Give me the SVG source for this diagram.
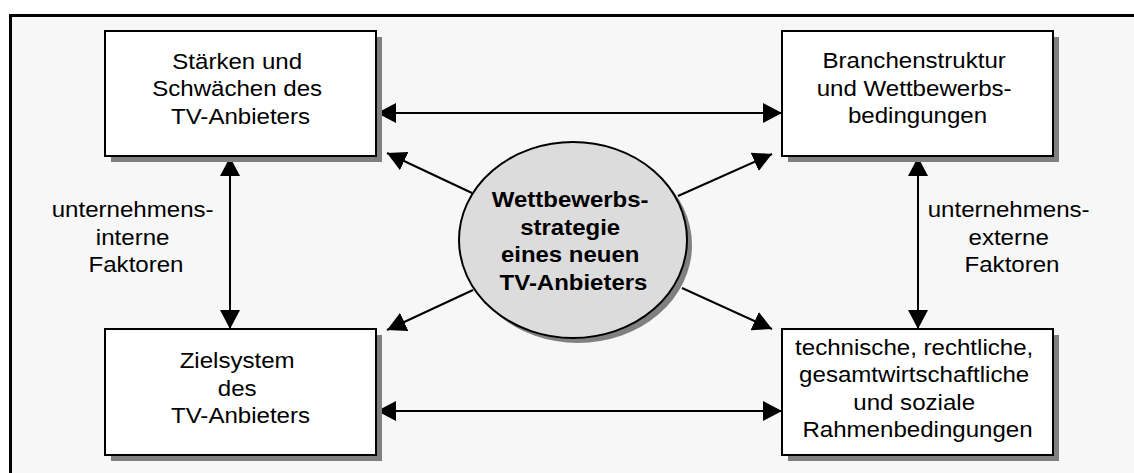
<svg xmlns="http://www.w3.org/2000/svg" width="1134" height="473" viewBox="0 0 1134 473">
  <style>
    .box { fill: #ffffff; stroke: #000000; stroke-width: 2; }
    .shadow { fill: #808080; }
    .lbl { font-family: "Liberation Sans", Arial, sans-serif; font-size: 22px; fill: #000000; text-anchor: middle; }
    .bold { font-weight: bold; }
    .conn { stroke: #000000; stroke-width: 2; fill: none; marker-end: url(#head); }
    .both { marker-start: url(#head); }
  </style>
  <defs>
    <marker id="head" markerUnits="userSpaceOnUse" markerWidth="19" markerHeight="20" refX="19" refY="10" orient="auto-start-reverse" viewBox="0 0 19 20">
      <path d="M0,0 L19,10 L0,20 Z" fill="#000000"/>
    </marker>
  </defs>

  <!-- page and frame -->
  <rect x="0" y="0" width="1134" height="473" fill="#ffffff"/>
  <rect x="10.5" y="15.5" width="1140" height="470" fill="#f7f7f7" stroke="#000000" stroke-width="3"/>

  <!-- connectors -->
  <g id="connectors">
    <line class="conn both" x1="377" y1="113" x2="782" y2="113"/>
    <line class="conn both" x1="377" y1="411" x2="782" y2="411"/>
    <line class="conn both" x1="230" y1="157" x2="230" y2="329"/>
    <line class="conn both" x1="918" y1="157" x2="918" y2="329"/>
    <line class="conn" x1="472" y1="193" x2="387" y2="153"/>
    <line class="conn" x1="678" y1="196" x2="772" y2="154"/>
    <line class="conn" x1="473" y1="290" x2="387" y2="330"/>
    <line class="conn" x1="682" y1="288" x2="772" y2="329"/>
  </g>

  <!-- top left -->
  <g id="staerken">
    <rect class="shadow" x="111" y="37" width="271" height="125"/>
    <rect class="box" x="105" y="31" width="271" height="125"/>
    <text class="lbl" transform="translate(240.5 0) scale(1.095 1)">
      <tspan x="0" y="69">Stärken und</tspan>
      <tspan x="0" y="96.5">Schwächen des</tspan>
      <tspan x="0" y="124">TV-Anbieters</tspan>
    </text>
  </g>

  <!-- top right -->
  <g id="branche">
    <rect class="shadow" x="788" y="37" width="271" height="125"/>
    <rect class="box" x="782" y="31" width="271" height="125"/>
    <text class="lbl" transform="translate(917.5 0) scale(1.095 1)">
      <tspan x="0" y="68.5">Branchenstruktur</tspan>
      <tspan x="0" y="96.5">und Wettbewerbs-</tspan>
      <tspan x="0" y="123.5">bedingungen</tspan>
    </text>
  </g>

  <!-- bottom left -->
  <g id="zielsystem">
    <rect class="shadow" x="111" y="335" width="271" height="126"/>
    <rect class="box" x="105" y="329" width="271" height="126"/>
    <text class="lbl" transform="translate(240.5 0) scale(1.095 1)">
      <tspan x="0" y="368">Zielsystem</tspan>
      <tspan x="0" y="396">des</tspan>
      <tspan x="0" y="423">TV-Anbieters</tspan>
    </text>
  </g>

  <!-- bottom right -->
  <g id="rahmen">
    <rect class="shadow" x="788" y="335" width="271" height="126"/>
    <rect class="box" x="782" y="329" width="271" height="126"/>
    <text class="lbl" transform="translate(917.5 0) scale(1.095 1)">
      <tspan x="0" y="355">technische, rechtliche,</tspan>
      <tspan x="0" y="382.5">gesamtwirtschaftliche</tspan>
      <tspan x="0" y="410">und soziale</tspan>
      <tspan x="0" y="437.5">Rahmenbedingungen</tspan>
    </text>
  </g>

  <!-- centre -->
  <g id="strategie">
    <ellipse class="shadow" cx="578" cy="245" rx="114" ry="98"/>
    <ellipse cx="573" cy="240" rx="114" ry="98" fill="#dcdcdc" stroke="#000000" stroke-width="2"/>
    <text class="lbl bold" transform="translate(573.5 0) scale(1.09 1)">
      <tspan x="0" y="207">Wettbewerbs-</tspan>
      <tspan x="0" y="235">strategie</tspan>
      <tspan x="0" y="262">eines neuen</tspan>
      <tspan x="0" y="290">TV-Anbieters</tspan>
    </text>
  </g>

  <!-- side labels -->
  <g id="intern">
    <text class="lbl" transform="translate(136 0) scale(1.095 1)">
      <tspan x="0" y="217">unternehmens-</tspan>
      <tspan x="0" y="245">interne</tspan>
      <tspan x="0" y="272">Faktoren</tspan>
    </text>
  </g>
  <g id="extern">
    <text class="lbl" transform="translate(1012 0) scale(1.095 1)">
      <tspan x="0" y="217">unternehmens-</tspan>
      <tspan x="0" y="245">externe</tspan>
      <tspan x="0" y="272">Faktoren</tspan>
    </text>
  </g>
</svg>
